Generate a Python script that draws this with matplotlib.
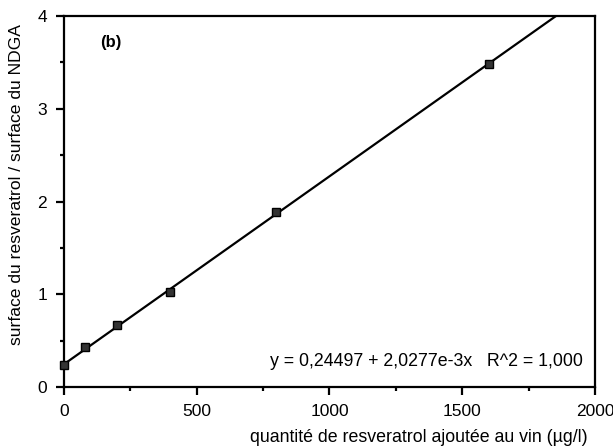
import numpy as np
import matplotlib.pyplot as plt
import matplotlib.transforms as mtransforms
from matplotlib.ticker import MultipleLocator

# valeurs
x_pts = [0, 80, 200, 400, 800, 1600]
y_pts = [0.235, 0.43, 0.67, 1.03, 1.89, 3.48]

a = 0.24497
b = 2.0277e-3
x_line = [0, 2000]

plt.rcParams['font.family'] = ['Liberation Sans', 'DejaVu Sans']

fig = plt.figure(figsize=(6.13, 4.47), dpi=100)
ax = fig.add_axes([0.104, 0.134, 0.867, 0.830])

y_line = [a + b * x for x in x_line]
ax.plot(x_line, y_line, c='black', linewidth=1.6, zorder=2)
ax.plot(x_pts, y_pts, 's', markersize=6, markerfacecolor='#333333',
        markeredgecolor='black', markeredgewidth=1.0, zorder=3, clip_on=False)

ax.set_xlim(0, 2000)
ax.set_ylim(0, 4)
ax.xaxis.set_major_locator(MultipleLocator(500))
ax.xaxis.set_minor_locator(MultipleLocator(250))
ax.yaxis.set_major_locator(MultipleLocator(1))
ax.yaxis.set_minor_locator(MultipleLocator(0.5))
ax.tick_params(which='major', direction='out', length=6, width=1.6, labelsize=12.5, pad=6)
ax.tick_params(which='minor', direction='out', length=3, width=1.6)
for s in ax.spines.values():
    s.set_linewidth(1.6)

# le dernier label "2000" touche le bord droit
fig.canvas.draw()
last = ax.get_xticklabels()[-1]
last.set_transform(last.get_transform() +
                   mtransforms.ScaledTranslation(-5 / 100, 0, fig.dpi_scale_trans))

ax.text(136, 3.71, '(b)', fontsize=12, fontweight='bold', ha='left', va='center')
ax.text(1955, 0.28, 'y = 0,24497 + 2,0277e-3x   R^2 = 1,000', fontsize=12.8,
        ha='right', va='center')

ax.set_ylabel('surface du resveratrol / surface du NDGA', fontsize=12.6)
ax.yaxis.set_label_coords(-0.074, 0.545)
fig.text(0.958, 0.003, 'quantité de resveratrol ajoutée au vin (µg/l)', fontsize=12.8,
         ha='right', va='bottom')

fig.savefig('out.png', dpi=100)
